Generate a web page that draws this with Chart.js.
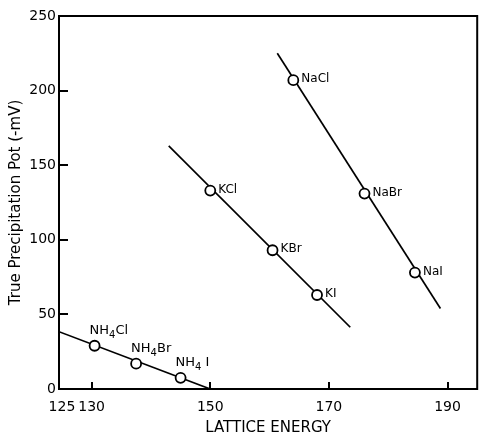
<!DOCTYPE html>
<html>
<head>
<meta charset="utf-8">
<script src="https://cdn.jsdelivr.net/npm/chart.js@4.4.0/dist/chart.umd.min.js"></script>
<style>
  html, body { margin:0; padding:0; background:#fff; }
  #wrap { width:484px; height:437px; }
</style>
</head>
<body>
<div id="wrap"><canvas id="chart"></canvas></div>
<script>
// === Datos ===
const salts = ['NaCl','NaBr','NaI','KCl','KBr','KI','NH4Cl','NH4Br','NH4I'];
const latticeEnergy = [164, 176, 184.5, 150, 160.5, 168, 130.5, 137.5, 145];
const precipPot = [207, 131, 78, 133, 93, 63, 29, 17, 7.5];

// rectas de ajuste (extremos)
const naLineX = [161.3, 188.8], naLineY = [225, 54];
const kLineX = [143, 173.6], kLineY = [163, 41.4];
const nhLineX = [124.5, 150], nhLineY = [38.4, 0];

const xTicks = [125, 130, 150, 170, 190];
const yTicks = [0, 50, 100, 150, 200, 250];

const toPts = (xs, ys) => xs.map((x, i) => ({ x, y: ys[i] }));

// posición de etiquetas respecto al punto
const labelOffset = (name) => name.startsWith('NH4') ? { dx: -5, dy: -15 } : { dx: 8, dy: -1 };

const FONT = '"DejaVu Sans", sans-serif';

const decor = {
  id: 'decor',
  afterDraw(chart) {
    const { ctx, chartArea: a, scales: { x, y } } = chart;
    ctx.save();
    ctx.strokeStyle = '#000';
    ctx.lineWidth = 2;
    ctx.strokeRect(a.left, a.top, a.right - a.left, a.bottom - a.top);
    // marcas hacia dentro
    ctx.lineWidth = 2;
    yTicks.slice(1, -1).forEach(v => {
      const py = Math.round(y.getPixelForValue(v));
      ctx.beginPath(); ctx.moveTo(a.left, py); ctx.lineTo(a.left + 9, py); ctx.stroke();
    });
    xTicks.slice(1).forEach(v => {
      const px = Math.round(x.getPixelForValue(v));
      ctx.beginPath(); ctx.moveTo(px, a.bottom); ctx.lineTo(px, a.bottom - 7); ctx.stroke();
    });
    // etiquetas de las sales
    ctx.fillStyle = '#000';
    ctx.textBaseline = 'middle';
    ctx.textAlign = 'left';
    salts.forEach((name, i) => {
      const px = x.getPixelForValue(latticeEnergy[i]);
      const py = y.getPixelForValue(precipPot[i]);
      const o = labelOffset(name);
      let tx = px + o.dx, ty = py + o.dy;
      if (name.startsWith('NH4')) {
        const rest = name.slice(3) === 'I' ? ' I' : name.slice(3);
        ctx.font = '13px ' + FONT;
        ctx.fillText('NH', tx, ty);
        tx += ctx.measureText('NH').width;
        ctx.font = '10px ' + FONT;
        ctx.fillText('4', tx, ty + 5);
        tx += ctx.measureText('4').width;
        ctx.font = '13px ' + FONT;
        ctx.fillText(rest, tx, ty);
      } else {
        ctx.font = '12px ' + FONT;
        ctx.fillText(name, tx, ty);
      }
    });
    ctx.restore();
  }
};

const ctx = document.getElementById('chart');
new Chart(ctx, {
  type: 'scatter',
  data: {
    datasets: [
      { label: 'salts', data: toPts(latticeEnergy, precipPot), pointRadius: 5, pointHoverRadius: 5,
        pointBackgroundColor: '#fff', pointBorderColor: '#000', pointBorderWidth: 1.8 },
      { label: 'Na', data: toPts(naLineX, naLineY), showLine: true, pointRadius: 0, borderColor: '#000', borderWidth: 1.7 },
      { label: 'K', data: toPts(kLineX, kLineY), showLine: true, pointRadius: 0, borderColor: '#000', borderWidth: 1.7 },
      { label: 'NH4', data: toPts(nhLineX, nhLineY), showLine: true, pointRadius: 0, borderColor: '#000', borderWidth: 1.7 }
    ]
  },
  options: {
    responsive: true,
    maintainAspectRatio: false,
    animation: false,
    layout: { padding: { top: 16, right: 6, left: 0, bottom: 0 } },
    plugins: { legend: { display: false }, tooltip: { enabled: false } },
    scales: {
      x: {
        type: 'linear', min: 124.5, max: 195,
        afterBuildTicks: s => { s.ticks = xTicks.map(v => ({ value: v })); },
        afterFit: s => { s.height = 48; },
        grid: { display: false, drawTicks: false },
        border: { display: false },
        ticks: { padding: 10, color: '#000', font: { family: FONT, size: 14 }, autoSkip: false, maxRotation: 0 },
        title: { display: true, text: 'LATTICE ENERGY', color: '#000', font: { family: FONT, size: 15 }, padding: { top: 0, bottom: 0 } }
      },
      y: {
        type: 'linear', min: 0, max: 250,
        afterBuildTicks: s => { s.ticks = yTicks.map(v => ({ value: v })); },
        afterFit: s => { s.width = 59; },
        grid: { display: false, drawTicks: false },
        border: { display: false },
        ticks: { padding: 3, color: '#000', font: { family: FONT, size: 14 } },
        title: { display: true, text: 'True Precipitation Pot (-mV)', color: '#000', font: { family: FONT, size: 15 }, padding: { top: 7, bottom: 0 } }
      }
    }
  },
  plugins: [decor]
});
</script>
</body>
</html>
